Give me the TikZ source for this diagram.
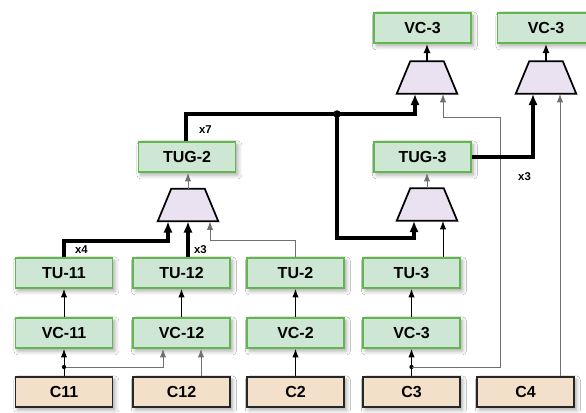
\documentclass[tikz,border=0pt]{standalone}
\usepackage{fontspec}
\setmainfont{Liberation Sans}
\usetikzlibrary{arrows.meta,calc,shadows.blur}
\definecolor{gfill}{RGB}{206,231,213}
\definecolor{gline}{RGB}{98,182,78}
\definecolor{cfill}{RGB}{242,224,203}
\definecolor{mfill}{RGB}{234,226,241}
\definecolor{lgray}{RGB}{112,112,112}
\begin{document}
\begin{tikzpicture}[x=0.75pt,y=-0.75pt,
  shad/.style={blur shadow={shadow xshift=1.8pt,shadow yshift=-2.2pt,shadow blur radius=3pt,shadow opacity=35}},
  gbox/.style={draw=gline,line width=1.2pt,fill=gfill,minimum width=72.75pt,minimum height=22.5pt,inner sep=0pt,font=\bfseries\fontsize{12}{14}\selectfont,shad},
  cbox/.style={draw=black!85,line width=1.2pt,fill=cfill,minimum width=72.75pt,minimum height=22.5pt,inner sep=0pt,font=\bfseries\fontsize{12}{14}\selectfont,shad},
  mux/.style={minimum width=45pt,minimum height=24pt,inner sep=0pt},
  lbl/.style={font=\bfseries\fontsize{8.5}{10}\selectfont,inner sep=0pt},
  thinar/.style={line width=0.75pt,-{Latex[length=6.5pt,width=4.8pt]}},
  thickar/.style={line width=2.5pt,-{Latex[length=8.5pt,width=7pt]}},
  medar/.style={line width=1.5pt,-{Latex[length=7pt,width=5.5pt]}}
]
\useasboundingbox (0,0) rectangle (586,412);
\clip (0,0) rectangle (586,412);
\fill[white] (0,0) rectangle (586,412);

% bottom row
\node[cbox] (c11) at (64,392) {C11};
\node[cbox] (c12) at (181.5,392) {C12};
\node[cbox] (c2) at (295.5,392) {C2};
\node[cbox] (c3) at (411.5,392) {C3};
\node[cbox] (c4) at (525.5,392) {C4};
% VC row
\node[gbox] (vc11) at (64,333) {VC-11};
\node[gbox] (vc12) at (181.5,333) {VC-12};
\node[gbox] (vc2) at (295.5,333) {VC-2};
\node[gbox] (vc3) at (411.5,333) {VC-3};
% TU row
\node[gbox] (tu11) at (64,273) {TU-11};
\node[gbox] (tu12) at (181.5,273) {TU-12};
\node[gbox] (tu2) at (295.5,273) {TU-2};
\node[gbox] (tu3) at (411.5,273) {TU-3};
% TUG
\node[gbox] (tug2) at (187,157) {TUG-2};
\node[gbox] (tug3) at (422.5,157) {TUG-3};
% top VC-3
\node[gbox] (vca) at (422.5,28) {VC-3};
\node[gbox] (vcb) at (546,28) {VC-3};

% muxes
\node[mux] (m1) at (188,205) {};
\node[mux] (m2) at (427,204.5) {};
\node[mux] (m3) at (427,77.5) {};
\node[mux] (m4) at (546,77.5) {};
\foreach \m in {m1,m2,m3,m4}
  \draw[line width=1.3pt,fill=mfill] (\m.south west) -- (\m.south east)
     -- ($(\m.north east)+(-13.5,0)$) -- ($(\m.north west)+(13.5,0)$) -- cycle;

% C -> VC
\coordinate (j11) at (64,367);
\coordinate (j3) at (411.5,367);
\draw[thinar] (c11.north) -- (vc11.south);
\draw[thinar,lgray] (j11) -| ($(vc12.south)+(-18.5,0)$);
\draw[thinar,lgray] ($(c12.north)+(19.5,0)$) -- ($(vc12.south)+(19.5,0)$);
\draw[thinar] (c2.north) -- (vc2.south);
\draw[thinar] (c3.north) -- (vc3.south);
\fill (j11) circle (1.6pt);
\fill (j3) circle (1.6pt);

% VC -> TU
\draw[thinar] (vc11.north) -- (tu11.south);
\draw[thinar] (vc12.north) -- (tu12.south);
\draw[thinar] (vc2.north) -- (tu2.south);
\draw[thinar] (vc3.north) -- (tu3.south);

% TU -> mux m1
\draw[thickar] (tu11.north) -- (64,241) -| ($(m1.south)+(-20,0)$);
\draw[thickar] ($(tu12.north)+(6.5,0)$) -- (m1.south);
\draw[thinar,lgray] (tu2.north) -- (295.5,240) -| ($(m1.south)+(22,0)$);
\draw[thinar,lgray] (m1.north) -- (m1.north |- tug2.south);

% TUG-2 out
\coordinate (jt) at (337,114);
\draw[thickar] ($(tug2.north)+(-1,0)$) -- (186,114) -| ($(m3.south)+(-12,0)$);
\draw[thickar] (jt) -- (337,238) -| ($(m2.south)+(-13,0)$);
\fill (jt) circle (2.8pt);

% TU-3 -> m2 -> TUG-3
\draw[thinar] ($(tu3.north)+(31.5,0)$) -- ($(m2.south)+(16,0)$);
\draw[thinar,lgray] (m2.north) -- (m2.north |- tug3.south);

% C3 route to m3
\draw[thinar,lgray] (j3) -- (500,367) -- (500,117) -| ($(m3.south)+(16,0)$);
% TUG-3 -> m4
\draw[thickar] (tug3.east) -| ($(m4.south)+(-13,0)$);
% C4 -> m4
\draw[thinar,lgray] ($(c4.north)+(34.5,0)$) -- ($(m4.south)+(14,0)$);

% mux -> top VC-3
\draw[medar] (m3.north) -- (m3.north |- vca.south);
\draw[medar] (m4.north) -- (m4.north |- vcb.south);

% labels
\node[lbl] (lx4) at (81.5,250) {x4};
\node[lbl] (lx3a) at (200.5,250) {x3};
\node[lbl] (lx7) at (205.5,129.5) {x7};
\node[lbl] (lx3b) at (524.5,176.5) {x3};
\end{tikzpicture}
\end{document}
